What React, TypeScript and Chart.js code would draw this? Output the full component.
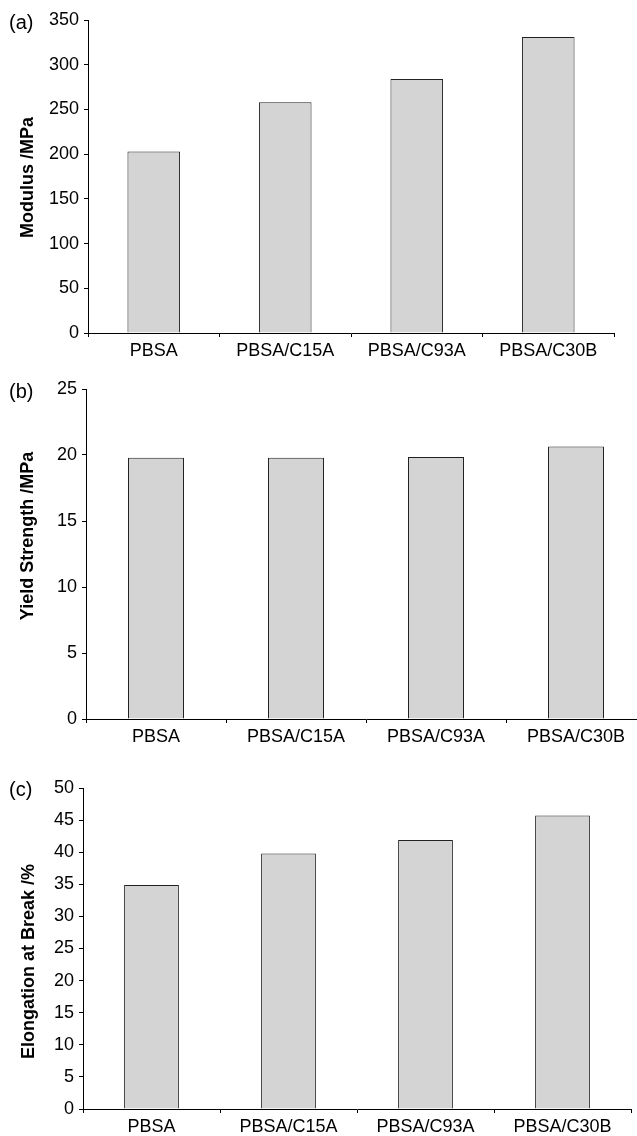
import React, { useEffect, useRef } from "react";
import { Chart, registerables } from "chart.js";

Chart.register(...registerables);

const categories = ["PBSA", "PBSA/C15A", "PBSA/C93A", "PBSA/C30B"];
const modulusValues = [203, 258, 284, 331];
const yieldValues = [19.8, 19.8, 19.85, 20.65];
const elongationValues = [34.9, 39.8, 41.9, 45.7];

const modulusTicks = { min: 0, max: 350, step: 50 };
const yieldTicks = { min: 0, max: 25, step: 5 };
const elongationTicks = { min: 0, max: 50, step: 5 };

const FONT = "'Liberation Sans', Arial, Helvetica, sans-serif";

const panelPlugin = {
  id: "panelDecor",
  afterDraw(chart: any) {
    const opts = chart.options.plugins.panelDecor;
    if (!opts) return;
    const { ctx, chartArea } = chart;
    ctx.save();
    ctx.fillStyle = "#000";
    ctx.font = `20px ${FONT}`;
    ctx.textAlign = "left";
    ctx.textBaseline = "middle";
    ctx.fillText(opts.letter, opts.letterX, chartArea.top + opts.letterDy);
    ctx.font = `bold 18px ${FONT}`;
    ctx.translate(opts.titleX, (chartArea.top + chartArea.bottom) / 2 + opts.titleDy);
    ctx.rotate(-Math.PI / 2);
    ctx.textAlign = "center";
    ctx.fillText(opts.title, 0, 0);
    ctx.restore();
  },
};

type PanelProps = {
  top: number;
  width: number;
  height: number;
  values: number[];
  ticks: { min: number; max: number; step: number };
  plotLeft: number;
  plotRight: number;
  plotTop: number;
  plotBottom: number;
  letter: string;
  title: string;
  titleX: number;
  titleDy: number;
  letterDy: number;
};

function Panel(p: PanelProps) {
  const ref = useRef<HTMLCanvasElement>(null);
  useEffect(() => {
    if (!ref.current) return;
    const chart = new Chart(ref.current, {
      type: "bar",
      data: {
        labels: categories,
        datasets: [
          {
            data: p.values,
            backgroundColor: "#d4d4d4",
            borderColor: "#222",
            borderWidth: 1,
            barPercentage: 0.4,
            categoryPercentage: 1,
          },
        ],
      },
      plugins: [panelPlugin],
      options: {
        responsive: false,
        animation: false,
        devicePixelRatio: 1,
        layout: {
          padding: {
            top: p.plotTop,
            right: p.width - p.plotRight,
            left: 0,
            bottom: 0,
          },
        },
        plugins: {
          legend: { display: false },
          tooltip: { enabled: false },
          panelDecor: {
            letter: p.letter,
            letterX: 9,
            letterDy: p.letterDy,
            title: p.title,
            titleX: p.titleX,
            titleDy: p.titleDy,
          },
        } as any,
        scales: {
          x: {
            afterFit: (s: any) => {
              s.height = p.height - p.plotBottom;
            },
            grid: {
              display: true,
              drawOnChartArea: false,
              drawTicks: true,
              tickLength: 4,
              color: "#000",
              offset: true,
            },
            border: { display: true, color: "#000", width: 1 },
            ticks: {
              color: "#000",
              font: { family: FONT, size: 18 },
              padding: 3,
              maxRotation: 0,
              autoSkip: false,
            },
          },
          y: {
            min: p.ticks.min,
            max: p.ticks.max,
            afterFit: (s: any) => {
              s.width = p.plotLeft;
            },
            grid: {
              display: true,
              drawOnChartArea: false,
              drawTicks: true,
              tickLength: 4,
              color: "#000",
            },
            border: { display: true, color: "#000", width: 1 },
            ticks: {
              stepSize: p.ticks.step,
              color: "#000",
              font: { family: FONT, size: 18 },
              padding: 5,
            },
          },
        },
      },
    });
    return () => chart.destroy();
  }, []);
  return (
    <div style={{ position: "absolute", left: 0, top: p.top }}>
      <canvas
        ref={ref}
        width={p.width}
        height={p.height}
        style={{ width: p.width, height: p.height, display: "block" }}
      />
    </div>
  );
}

export default function App() {
  return (
    <div
      style={{
        position: "fixed",
        left: 0,
        top: 0,
        width: 637,
        height: 1136,
        overflow: "hidden",
        background: "#fff",
      }}
    >
      <Panel
        top={0}
        width={637}
        height={370}
        values={modulusValues}
        ticks={modulusTicks}
        plotLeft={88}
        plotRight={614}
        plotTop={20}
        plotBottom={333}
        letter="(a)"
        title="Modulus /MPa"
        titleX={28}
        titleDy={1}
        letterDy={3}
      />
      <Panel
        top={370}
        width={660}
        height={380}
        values={yieldValues}
        ticks={yieldTicks}
        plotLeft={86}
        plotRight={646}
        plotTop={19}
        plotBottom={349}
        letter="(b)"
        title="Yield Strength /MPa"
        titleX={28}
        titleDy={-18}
        letterDy={3}
      />
      <Panel
        top={750}
        width={637}
        height={386}
        values={elongationValues}
        ticks={elongationTicks}
        plotLeft={83}
        plotRight={631}
        plotTop={38}
        plotBottom={359}
        letter="(c)"
        title="Elongation at Break /%"
        titleX={29}
        titleDy={13}
        letterDy={2}
      />
    </div>
  );
}
